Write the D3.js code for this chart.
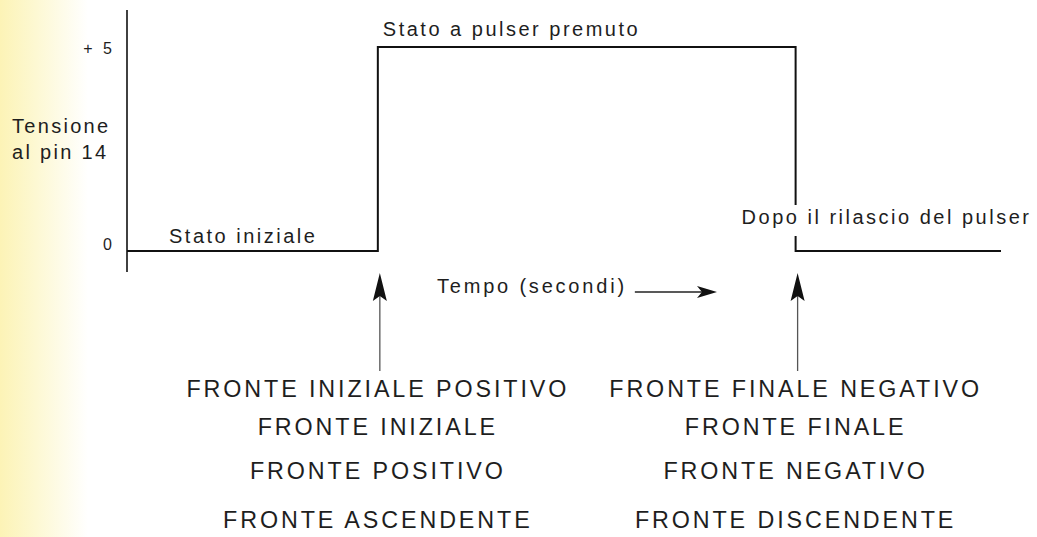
<!DOCTYPE html>
<html>
<head>
<meta charset="utf-8">
<script src="https://cdn.jsdelivr.net/npm/d3@7"></script>
<style>
	html, body { margin: 0; padding: 0; background: #fff; }
	svg { display: block; }
	text { font-family: 'Liberation Sans', Arial, sans-serif; fill: #1e1e1e; }
</style>
</head>
<body>
<svg id="chart" width="1037" height="537"></svg>
<script>
// signal: time (s) vs voltage at pin 14
const timePoints = [0, 2.87, 2.87, 7.65, 7.65, 10]
const voltage = [0, 0, 5, 5, 0, 0]

const tickValues = [0, 5]
const tickLabels = ['0', '+ 5']

// where the edges happen
const edgeTimes = [2.87, 7.65]
const edgeLabels = [
	['FRONTE INIZIALE POSITIVO', 'FRONTE INIZIALE', 'FRONTE POSITIVO', 'FRONTE ASCENDENTE'],
	['FRONTE FINALE NEGATIVO', 'FRONTE FINALE', 'FRONTE NEGATIVO', 'FRONTE DISCENDENTE'],
]

const stateLabels = ['Stato iniziale', 'Stato a pulser premuto', 'Dopo il rilascio del pulser']
const yTitle = ['Tensione', 'al pin 14']
const xTitle = 'Tempo (secondi)'

const svg = d3.select('#chart')

// pale yellow page edge of the scan
const grad = svg.append('defs').append('linearGradient').attr('id', 'edge')
grad.append('stop').attr('offset', 0).attr('stop-color', '#fcf3b6')
grad.append('stop').attr('offset', 0.4).attr('stop-color', '#fdf8d2')
grad.append('stop').attr('offset', 1).attr('stop-color', '#ffffff')
svg.append('rect').attr('width', 88).attr('height', 537).attr('fill', 'url(#edge)')

const x = d3.scaleLinear().domain([0, 10]).range([127, 1001])
const y = d3.scaleLinear().domain([0, 5]).range([251, 47])

const data = timePoints.map((t, i) => ({t, v: voltage[i]}))

// vertical axis line (no ticks)
svg.append('line')
	.attr('x1', x(0)).attr('x2', x(0))
	.attr('y1', y(5) - 37).attr('y2', y(0) + 21)
	.attr('stroke', '#111').attr('stroke-width', 1.6)

// tick labels via axis, domain removed
const yAxis = d3.axisLeft(y)
	.tickValues(tickValues)
	.tickSize(0)
	.tickPadding(12)
	.tickFormat((d, i) => tickLabels[i])

svg.append('g')
	.attr('transform', `translate(${x(0)},0)`)
	.call(yAxis)
	.call(g => g.select('.domain').remove())
	.call(g => g.selectAll('text')
		.style('font-family', "'Liberation Sans', Arial, sans-serif")
		.style('font-size', '16px')
		.style('letter-spacing', '3px')
		.attr('fill', '#333')
		.attr('dy', (d) => d === 0 ? '-0.1em' : '0.4em'))

// y title
svg.append('text')
	.attr('x', 12).attr('y', 133)
	.style('font-size', '20px').style('letter-spacing', '2.3px')
	.selectAll('tspan')
	.data(yTitle)
	.join('tspan')
	.attr('x', 12)
	.attr('dy', (d, i) => i ? 26 : 0)
	.text(d => d)

// the signal
svg.append('path')
	.datum(data)
	.attr('fill', 'none')
	.attr('stroke', '#111')
	.attr('stroke-width', 2)
	.attr('stroke-linejoin', 'miter')
	.attr('d', d3.line().x(d => x(d.t)).y(d => y(d.v)))

// state labels
const stateText = svg.append('g').style('font-size', '20px').style('letter-spacing', '2.5px')
stateText.append('text').attr('x', x(0) + 42).attr('y', y(0) - 8).text(stateLabels[0])
stateText.append('text').attr('x', x(edgeTimes[0]) + 5).attr('y', y(5) - 11).text(stateLabels[1])

const afterLabel = stateText.append('text')
	.attr('x', x(edgeTimes[1]) - 54).attr('y', y(0) - 27)
	.text(stateLabels[2])
// white gap behind the label cuts the falling edge
const bb = afterLabel.node().getBBox()
stateText.insert('rect', () => afterLabel.node())
	.attr('x', bb.x - 2).attr('y', bb.y - 1)
	.attr('width', bb.width + 4).attr('height', bb.height + 9)
	.attr('fill', '#fff')

// time axis title with arrow
const tt = svg.append('text')
	.attr('x', 437).attr('y', 293)
	.style('font-size', '20px').style('letter-spacing', '2.8px')
	.text(xTitle)
const tb = tt.node().getBBox()
svg.append('line')
	.attr('x1', tb.x + tb.width + 8).attr('x2', 705)
	.attr('y1', 292).attr('y2', 292)
	.attr('stroke', '#222').attr('stroke-width', 1.4)
svg.append('path')
	.attr('d', 'M717,292 L697,286 L702,292 L697,298 Z')
	.attr('fill', '#111')

// edge arrows and their names
const edges = svg.append('g').selectAll('g')
	.data(edgeTimes)
	.join('g')
	.attr('transform', t => `translate(${x(t)},0)`)

edges.append('line')
	.attr('x1', 2).attr('x2', 2)
	.attr('y1', y(0) + 44).attr('y2', y(0) + 120)
	.attr('stroke', '#555').attr('stroke-width', 1.3)

edges.append('path')
	.attr('d', `M2,${y(0) + 22} L-5,${y(0) + 50} L2,${y(0) + 45} L9,${y(0) + 50} Z`)
	.attr('fill', '#111')

const lineBase = [397, 435, 479, 528]
edges.append('text')
	.attr('text-anchor', 'middle')
	.style('font-size', '23.3px')
	.style('letter-spacing', '2.9px')
	.selectAll('tspan')
	.data((t, i) => edgeLabels[i])
	.join('tspan')
	.attr('x', 0)
	.attr('y', (d, i) => lineBase[i])
	.text(d => d)
</script>
</body>
</html>
